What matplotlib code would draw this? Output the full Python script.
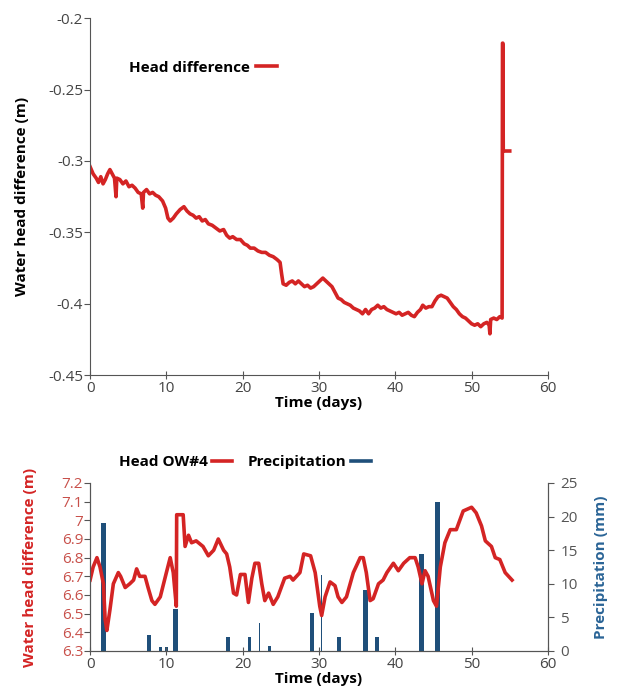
import matplotlib.pyplot as plt
from matplotlib.lines import Line2D

plt.rcParams['font.family'] = ['Open Sans', 'DejaVu Sans']

# 上段: 水頭差
diff_days = [0.0, 0.4, 0.8, 1.1, 1.4, 1.7, 2.0, 2.3, 2.6, 2.9, 3.2, 3.4, 3.5, 3.9, 4.3, 4.7,
             5.1, 5.5, 5.9, 6.3, 6.7, 6.9, 7.0, 7.4, 7.8, 8.2, 8.6, 9.0, 9.5, 9.9, 10.2, 10.5,
             10.9, 11.3, 11.8, 12.3, 12.7, 13.1, 13.5, 13.9, 14.3, 14.7, 15.1, 15.5, 16.0, 16.5,
             17.0, 17.5, 17.9, 18.3, 18.7, 19.2, 19.7, 20.2, 20.6, 21.0, 21.5, 22.0, 22.5, 23.0,
             23.5, 24.0, 24.5, 24.9, 25.1, 25.3, 25.7, 26.1, 26.5, 26.9, 27.3, 27.7, 28.1, 28.5,
             28.9, 29.3, 29.7, 30.1, 30.5, 30.9, 31.3, 31.7, 32.1, 32.5, 32.9, 33.3, 33.7, 34.1,
             34.5, 34.9, 35.3, 35.7, 36.1, 36.5, 36.9, 37.3, 37.7, 38.1, 38.5, 38.9, 39.3, 39.7,
             40.1, 40.5, 40.9, 41.3, 41.7, 42.1, 42.5, 42.9, 43.3, 43.6, 44.0, 44.4, 44.8, 45.2,
             45.6, 46.0, 46.4, 46.8, 47.2, 47.6, 48.0, 48.4, 48.8, 49.2, 49.6, 50.0, 50.4, 50.8,
             51.2, 51.6, 52.0, 52.3, 52.4, 52.5, 52.9, 53.3, 53.7, 54.0, 54.05, 54.1, 54.15, 55.0]
diff_vals = [-0.304, -0.309, -0.312, -0.315, -0.311, -0.316, -0.313, -0.309, -0.306, -0.309,
             -0.312, -0.325, -0.312, -0.313, -0.316, -0.314, -0.318, -0.317, -0.319, -0.322,
             -0.323, -0.333, -0.322, -0.320, -0.323, -0.322, -0.324, -0.325, -0.328, -0.333,
             -0.340, -0.342, -0.340, -0.337, -0.334, -0.332, -0.335, -0.337, -0.338, -0.340,
             -0.339, -0.342, -0.341, -0.344, -0.345, -0.347, -0.349, -0.348, -0.352, -0.354,
             -0.353, -0.355, -0.355, -0.358, -0.359, -0.361, -0.361, -0.363, -0.364, -0.364,
             -0.366, -0.367, -0.369, -0.371, -0.379, -0.386, -0.387, -0.385, -0.384, -0.386,
             -0.384, -0.386, -0.388, -0.387, -0.389, -0.388, -0.386, -0.384, -0.382, -0.384,
             -0.386, -0.388, -0.392, -0.396, -0.397, -0.399, -0.400, -0.401, -0.403, -0.404,
             -0.405, -0.407, -0.404, -0.407, -0.404, -0.403, -0.401, -0.403, -0.402, -0.404,
             -0.405, -0.406, -0.407, -0.406, -0.408, -0.407, -0.406, -0.408, -0.409, -0.406,
             -0.404, -0.401, -0.403, -0.402, -0.402, -0.398, -0.395, -0.394, -0.395, -0.396,
             -0.399, -0.402, -0.404, -0.407, -0.409, -0.410, -0.412, -0.414, -0.415, -0.414,
             -0.416, -0.414, -0.413, -0.415, -0.421, -0.411, -0.410, -0.411, -0.409, -0.410,
             -0.2175, -0.2175, -0.293, -0.293]

# 下段: OW#4 水頭と降水量
head_days = [0.0, 0.4, 0.9, 1.3, 1.75, 1.97, 2.2, 2.6, 3.05, 3.7, 4.0, 4.6, 5.2, 5.7, 6.1, 6.5,
             7.2, 7.6, 8.1, 8.5, 9.2, 10.0, 10.5, 10.9, 11.1, 11.3, 11.35, 12.2, 12.45, 12.9,
             13.3, 13.9, 14.8, 15.5, 16.2, 16.8, 17.5, 17.9, 18.3, 18.8, 19.2, 19.7, 20.3, 20.75,
             21.2, 21.6, 22.1, 22.5, 22.9, 23.4, 24.0, 24.6, 25.5, 26.2, 26.6, 27.5, 28.0, 28.9,
             29.5, 30.1, 30.35, 30.8, 31.45, 32.1, 32.5, 33.0, 33.6, 34.5, 35.4, 35.8, 36.2,
             36.7, 37.1, 37.8, 38.4, 38.9, 39.75, 40.4, 41.1, 41.9, 42.6, 43.0, 43.5, 43.9,
             44.3, 45.0, 45.4, 45.9, 46.5, 47.2, 48.0, 48.9, 50.0, 50.6, 51.3, 51.8, 52.6,
             53.1, 53.7, 54.4, 55.3]
head_vals = [6.68, 6.75, 6.80, 6.75, 6.66, 6.47, 6.41, 6.52, 6.66, 6.72, 6.70, 6.64, 6.66,
             6.68, 6.74, 6.70, 6.70, 6.64, 6.57, 6.55, 6.59, 6.72, 6.80, 6.72, 6.63, 6.54,
             7.03, 7.03, 6.86, 6.92, 6.88, 6.89, 6.86, 6.81, 6.84, 6.90, 6.84, 6.82, 6.75,
             6.61, 6.60, 6.71, 6.71, 6.56, 6.69, 6.77, 6.77, 6.66, 6.57, 6.61, 6.55, 6.59,
             6.69, 6.70, 6.68, 6.72, 6.82, 6.81, 6.72, 6.54, 6.49, 6.59, 6.67, 6.65, 6.59,
             6.56, 6.59, 6.72, 6.80, 6.80, 6.72, 6.57, 6.58, 6.66, 6.68, 6.72, 6.77, 6.73,
             6.77, 6.80, 6.80, 6.75, 6.66, 6.73, 6.70, 6.57, 6.54, 6.75, 6.88, 6.95, 6.95,
             7.05, 7.07, 7.04, 6.97, 6.89, 6.86, 6.80, 6.79, 6.72, 6.68]

rain_days = [1.75, 7.7, 9.2, 10.0, 11.2, 18.1, 20.9, 22.2, 23.5, 29.05, 30.3, 32.6, 36.1,
             37.6, 43.4, 45.5]
rain_mm = [19.0, 2.4, 0.6, 0.6, 6.3, 2.1, 2.1, 4.2, 0.7, 5.6, 11.3, 2.1, 9.1, 2.1, 14.4, 22.1]
rain_w = [0.6, 0.5, 0.4, 0.4, 0.6, 0.5, 0.5, 0.2, 0.4, 0.5, 0.2, 0.5, 0.6, 0.5, 0.6, 0.6]

RED = '#d42424'
BLUE = '#1f4f7a'
GREY = '#555555'
FS = 11

fig = plt.figure(figsize=(6.17, 7.0), dpi=100)

# ---- 上段 ----
ax1 = fig.add_axes([0.146, 0.464, 0.742, 0.510])
ax1.plot(diff_days, diff_vals, color=RED, lw=2.6)
ax1.set_xlim(0, 60)
ax1.set_ylim(-0.45, -0.2)
ax1.set_xticks(range(0, 61, 10))
ax1.set_yticks([-0.45, -0.4, -0.35, -0.3, -0.25, -0.2])
ax1.set_yticklabels(['-0.45', '-0.4', '-0.35', '-0.3', '-0.25', '-0.2'])
ax1.set_xlabel('Time (days)', fontsize=FS, fontweight='bold', labelpad=0)
ax1.set_ylabel('Water head difference (m)', fontsize=FS, fontweight='bold', labelpad=14)
for s in ['top', 'right']:
    ax1.spines[s].set_visible(False)
for s in ['left', 'bottom']:
    ax1.spines[s].set_color(GREY)
ax1.tick_params(axis='x', direction='inout', length=6, colors=GREY, labelsize=FS,
                labelcolor='#444444', pad=1)
ax1.tick_params(axis='y', direction='out', length=4, colors=GREY, labelsize=FS,
                labelcolor='#444444', pad=1)
ax1.legend([Line2D([0], [0], color=RED, lw=2.6)], ['Head difference'],
           loc='upper left', bbox_to_anchor=(0.055, 0.92), frameon=False,
           markerfirst=False, handlelength=1.4, handletextpad=0.4,
           prop={'weight': 'bold', 'size': FS})

# ---- 下段 ----
ax2 = fig.add_axes([0.146, 0.07, 0.742, 0.24])
ax3 = ax2.twinx()
ax3.bar(rain_days, rain_mm, width=rain_w, color=BLUE, zorder=1)
ax3.set_ylim(0, 25)
ax3.set_yticks(range(0, 26, 5))
ax2.plot(head_days, head_vals, color=RED, lw=2.6)
ax2.set_zorder(ax3.get_zorder() + 1)
ax2.patch.set_visible(False)
ax2.set_xlim(0, 60)
ax2.set_ylim(6.3, 7.2)
ax2.set_xticks(range(0, 61, 10))
ax2.set_yticks([6.3, 6.4, 6.5, 6.6, 6.7, 6.8, 6.9, 7.0, 7.1, 7.2])
ax2.set_yticklabels(['6.3', '6.4', '6.5', '6.6', '6.7', '6.8', '6.9', '7', '7.1', '7.2'])
ax2.set_xlabel('Time (days)', fontsize=FS, fontweight='bold', labelpad=0)
ax2.set_ylabel('Water head difference (m)', fontsize=FS, fontweight='bold', color=RED,
               labelpad=18)
ax3.set_ylabel('Precipitation (mm)', fontsize=FS, fontweight='bold', color='#2a6496',
               labelpad=12)
for a in (ax2, ax3):
    a.spines['top'].set_visible(False)
    for s in ['left', 'bottom', 'right']:
        a.spines[s].set_color(GREY)
ax2.tick_params(axis='x', direction='inout', length=6, colors=GREY, labelsize=FS,
                labelcolor='#444444', pad=1)
ax2.tick_params(axis='y', direction='out', length=4, colors=GREY, labelsize=FS,
                labelcolor='#c8504a', pad=1)
ax3.tick_params(axis='y', direction='out', length=4, colors=GREY, labelsize=FS,
                labelcolor='#555555', pad=5)
ax2.legend([Line2D([0], [0], color=RED, lw=2.6), Line2D([0], [0], color=BLUE, lw=2.6)],
           ['Head OW#4', 'Precipitation'], loc='lower center', ncol=2,
           bbox_to_anchor=(0.338, 1.0), frameon=False, markerfirst=False,
           handlelength=1.3, handletextpad=0.3, columnspacing=1.0,
           prop={'weight': 'bold', 'size': FS})

fig.savefig('out.png', dpi=100)
